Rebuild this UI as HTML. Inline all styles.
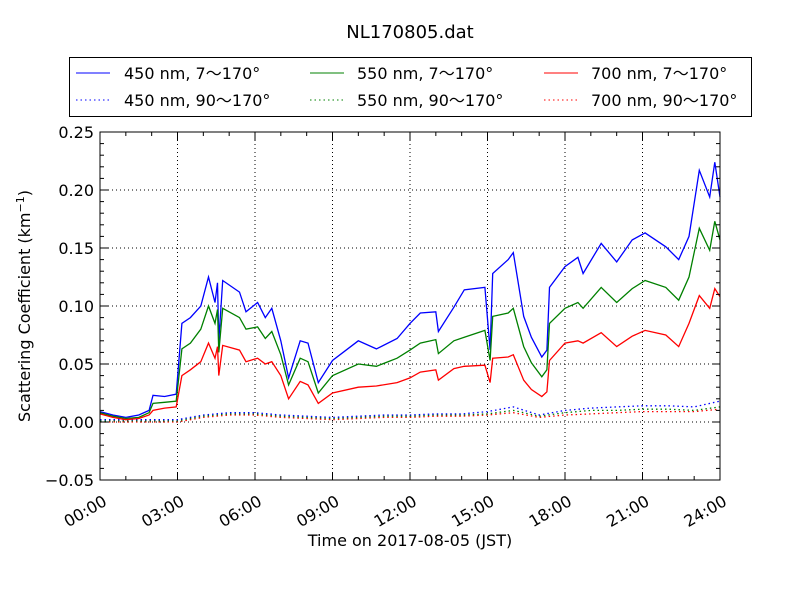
<!DOCTYPE html>
<html><head><meta charset="utf-8"><style>
body{margin:0;background:#fff;font-family:"Liberation Sans","DejaVu Sans",sans-serif}
svg text{font-family:"DejaVu Sans","Liberation Sans",sans-serif}
</style></head><body>
<svg id="c" width="800" height="600" xmlns="http://www.w3.org/2000/svg">
<rect width="800" height="600" fill="#fff"/>
<text x="410" y="38" font-size="18" text-anchor="middle">NL170805.dat</text>
<g id="grid"></g><g id="series"></g><g id="axes"></g>
<g>
<rect x="69.5" y="57.5" width="682" height="59" fill="#fff" stroke="#000"/>
<g font-size="16">
<line x1="76" y1="73" x2="110" y2="73" stroke="#0000ff"/><text x="124" y="79">450 nm, 7～170°</text>
<line x1="310" y1="73" x2="344" y2="73" stroke="#008000"/><text x="357" y="79">550 nm, 7～170°</text>
<line x1="544" y1="73" x2="578" y2="73" stroke="#ff0000"/><text x="591" y="79">700 nm, 7～170°</text>
<line x1="76" y1="100" x2="110" y2="100" stroke="#0000ff" stroke-dasharray="1.5,3"/><text x="124" y="106">450 nm, 90～170°</text>
<line x1="310" y1="100" x2="344" y2="100" stroke="#008000" stroke-dasharray="1.5,3"/><text x="357" y="106">550 nm, 90～170°</text>
<line x1="544" y1="100" x2="578" y2="100" stroke="#ff0000" stroke-dasharray="1.5,3"/><text x="591" y="106">700 nm, 90～170°</text>
</g></g>
<text x="410" y="546" font-size="16" text-anchor="middle">Time on 2017-08-05 (JST)</text>
<text transform="translate(30,306) rotate(-90)" font-size="16" text-anchor="middle">Scattering Coefficient (km<tspan dy="-6" font-size="11">−1</tspan><tspan dy="6">)</tspan></text>
</svg>
<script>
const T=[0,0.5,1,1.5,1.9,2.05,2.5,2.95,3.17,3.5,3.9,4.2,4.45,4.55,4.6,4.75,5.4,5.65,6.1,6.4,6.65,7.0,7.3,7.75,8.05,8.45,9.0,10.0,10.7,11.5,12,12.4,13,13.1,13.7,14.1,14.9,15.1,15.2,15.8,16.0,16.4,16.7,17.1,17.3,17.4,18.0,18.5,18.7,19.4,20.0,20.6,21.1,21.9,22.4,22.8,23.2,23.6,23.8,24];
const blue450=[0.009,0.006,0.004,0.006,0.010,0.023,0.022,0.024,0.085,0.090,0.100,0.125,0.103,0.120,0.070,0.122,0.112,0.095,0.103,0.090,0.098,0.070,0.038,0.070,0.068,0.034,0.053,0.070,0.063,0.072,0.085,0.094,0.095,0.078,0.099,0.114,0.116,0.062,0.128,0.140,0.146,0.091,0.073,0.056,0.062,0.116,0.134,0.142,0.128,0.154,0.138,0.157,0.163,0.151,0.140,0.160,0.217,0.194,0.224,0.194];
const green550=[0.008,0.005,0.003,0.004,0.008,0.016,0.017,0.018,0.063,0.068,0.080,0.100,0.085,0.097,0.060,0.098,0.090,0.080,0.082,0.072,0.078,0.058,0.032,0.055,0.052,0.025,0.040,0.050,0.048,0.055,0.062,0.068,0.071,0.059,0.070,0.073,0.079,0.053,0.091,0.094,0.098,0.065,0.051,0.039,0.045,0.085,0.098,0.103,0.098,0.116,0.103,0.115,0.122,0.116,0.105,0.125,0.167,0.148,0.173,0.157];
const red700=[0.007,0.004,0.002,0.003,0.006,0.010,0.012,0.013,0.040,0.045,0.052,0.068,0.055,0.065,0.040,0.066,0.062,0.052,0.055,0.050,0.052,0.040,0.020,0.035,0.032,0.016,0.025,0.030,0.031,0.034,0.038,0.043,0.045,0.036,0.046,0.048,0.049,0.034,0.055,0.056,0.058,0.036,0.028,0.022,0.026,0.053,0.068,0.070,0.068,0.077,0.065,0.074,0.079,0.075,0.065,0.085,0.109,0.098,0.115,0.108];
const T2=[0,1,2,3,4,5,6,7,8,9,10,11,12,13,14,15,16,17,18,19,20,21,22,23,24];
const blue450b=[0.002,0.002,0.002,0.002,0.006,0.008,0.008,0.006,0.005,0.004,0.005,0.006,0.006,0.007,0.007,0.009,0.013,0.006,0.01,0.012,0.013,0.014,0.014,0.013,0.018];
const green550b=[0.001,0.001,0.001,0.001,0.005,0.007,0.007,0.005,0.004,0.003,0.004,0.005,0.005,0.006,0.006,0.007,0.01,0.005,0.008,0.01,0.01,0.011,0.011,0.01,0.013];
const red700b=[0,0,0,0,0.004,0.006,0.006,0.004,0.003,0.002,0.003,0.004,0.004,0.005,0.005,0.006,0.008,0.004,0.006,0.007,0.008,0.009,0.009,0.009,0.011];
const yTicks=[-0.05,0,0.05,0.1,0.15,0.2,0.25];
const yTickLabels=["−0.05","0.00","0.05","0.10","0.15","0.20","0.25"];
const xTicks=[0,3,6,9,12,15,18,21,24];
const xTickLabels=["00:00","03:00","06:00","09:00","12:00","15:00","18:00","21:00","24:00"];

const L=100,R=720,TOP=132,BOT=480;
const xs=h=>L+(h/24)*(R-L);
const ys=v=>BOT-(v+0.05)/0.30*(BOT-TOP);
const NS="http://www.w3.org/2000/svg";
function mk(tag,attrs,parent){const e=document.createElementNS(NS,tag);for(const k in attrs)e.setAttribute(k,attrs[k]);parent.appendChild(e);return e;}
const grid=document.getElementById('grid'),ser=document.getElementById('series'),ax=document.getElementById('axes');
xTicks.forEach((t,i)=>{if(i>0&&i<xTicks.length-1){const g=mk('line',{x1:xs(t),x2:xs(t),y1:TOP,y2:BOT,stroke:'#000','stroke-dasharray':'1,3'},grid);

}});
yTicks.forEach((t,i)=>{if(i>0&&i<yTicks.length-1){const g=mk('line',{x1:L,x2:R,y1:ys(t),y2:ys(t),stroke:'#000','stroke-dasharray':'1,3'},grid);

}});
function line(X,Y,color,dash,name){const d=X.map((x,i)=>(i?'L':'M')+xs(x).toFixed(1)+','+ys(Y[i]).toFixed(1)).join('');
const p=mk('path',{d:d,fill:'none',stroke:color,'stroke-width':1.3},ser);if(dash)p.setAttribute('stroke-dasharray','1.5,3');

}
line(T2,red700b,'#ff0000',true,'series-700-dotted');
line(T2,green550b,'#008000',true,'series-550-dotted');
line(T2,blue450b,'#0000ff',true,'series-450-dotted');
line(T,blue450,'#0000ff',false,'series-450-solid');
line(T,green550,'#008000',false,'series-550-solid');
line(T,red700,'#ff0000',false,'series-700-solid');
const fr=mk('rect',{x:L,y:TOP,width:R-L,height:BOT-TOP,fill:'none',stroke:'#000'},ax);


for(let v=-0.05;v<=0.2501;v+=0.01){const y=ys(v);mk('line',{x1:L,x2:L+4,y1:y,y2:y,stroke:'#000'},ax);mk('line',{x1:R,x2:R-4,y1:y,y2:y,stroke:'#000'},ax);}
yTicks.forEach((t,i)=>{const y=ys(t);mk('line',{x1:L,x2:L+8,y1:y,y2:y,stroke:'#000'},ax);mk('line',{x1:R,x2:R-8,y1:y,y2:y,stroke:'#000'},ax);
const tx=mk('text',{x:94,y:y+6,'font-size':16,'text-anchor':'end'},ax);tx.textContent=yTickLabels[i];

});
for(let h=0;h<=24;h++){const x=xs(h);mk('line',{x1:x,x2:x,y1:BOT,y2:BOT-4,stroke:'#000'},ax);mk('line',{x1:x,x2:x,y1:TOP,y2:TOP+4,stroke:'#000'},ax);}
xTicks.forEach((t,i)=>{const x=xs(t);mk('line',{x1:x,x2:x,y1:BOT,y2:BOT-8,stroke:'#000'},ax);mk('line',{x1:x,x2:x,y1:TOP,y2:TOP+8,stroke:'#000'},ax);
const tx=mk('text',{transform:`translate(${x+2},${BOT+14}) rotate(-30)`,'font-size':16,'text-anchor':'end','dominant-baseline':'hanging'},ax);tx.textContent=xTickLabels[i];

});
</script>
</body></html>
